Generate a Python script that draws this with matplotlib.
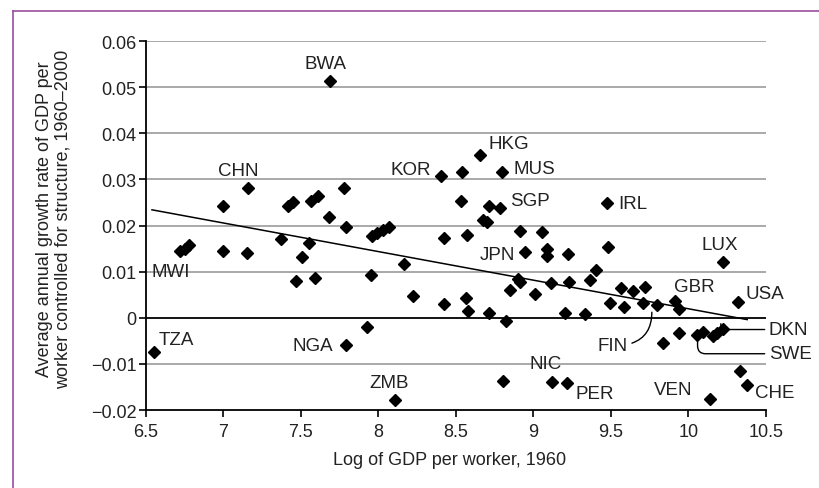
"""
Crecimiento del PIB por trabajador (1960-2000, controlado por estructura)
frente al log del PIB por trabajador en 1960.

Genera:
    out.png
"""

import matplotlib
matplotlib.use("Agg")
import matplotlib.pyplot as plt
from matplotlib.lines import Line2D

# ---------------------------------------------------------------------------
# Datos
# ---------------------------------------------------------------------------

log_gdp_1960 = [
    6.55, 6.72, 6.75, 6.78, 7.00, 7.00, 7.16, 7.155, 7.37, 7.42,
    7.45, 7.47, 7.51, 7.555, 7.565, 7.61, 7.59, 7.685, 7.69, 7.78,
    7.79, 7.79, 7.93, 7.954, 7.96, 7.99, 8.03, 8.07, 8.108, 8.168,
    8.226, 8.405, 8.425, 8.426, 8.532, 8.539, 8.566, 8.57, 8.581, 8.657,
    8.674, 8.70, 8.717, 8.717, 8.786, 8.797, 8.807, 8.823, 8.85, 8.904,
    8.915, 8.915, 8.947, 9.01, 9.055, 9.09, 9.087, 9.113, 9.123, 9.205,
    9.22, 9.227, 9.233, 9.334, 9.366, 9.405, 9.474, 9.484, 9.495, 9.566,
    9.586, 9.642, 9.706, 9.721, 9.80, 9.84, 9.915, 9.943, 9.943, 10.055,
    10.094, 10.14, 10.162, 10.184, 10.223, 10.226, 10.32, 10.334, 10.38,
]

growth = [
    -0.0075, 0.0145, 0.0150, 0.0158, 0.0243, 0.0144, 0.0281, 0.0140, 0.0171, 0.0243,
    0.0252, 0.0079, 0.0132, 0.0161, 0.0253, 0.0263, 0.0086, 0.0218, 0.0514, 0.0281,
    0.0196, -0.0058, -0.0019, 0.0093, 0.0178, 0.0184, 0.0190, 0.0196, -0.0178, 0.0116,
    0.0048, 0.0308, 0.0173, 0.0030, 0.0254, 0.0315, 0.0042, 0.0180, 0.0015, 0.0353,
    0.0212, 0.0207, 0.0243, 0.0010, 0.0237, 0.0317, -0.0137, -0.0006, 0.0061, 0.0084,
    0.0077, 0.0189, 0.0142, 0.0051, 0.0187, 0.0150, 0.0133, 0.0075, -0.0139, 0.0010,
    -0.0141, 0.0138, 0.0078, 0.0008, 0.0082, 0.0104, 0.0249, 0.0153, 0.0033, 0.0064,
    0.0023, 0.0059, 0.0031, 0.0066, 0.0028, -0.0055, 0.0037, 0.0020, -0.0033, -0.0038,
    -0.0030, -0.0176, -0.0039, -0.0032, 0.0120, -0.0024, 0.0035, -0.0115, -0.0146,
]

# Recta de regresión (extremos)
fit_x = [6.54, 10.38]
fit_y = [0.0234, -0.0004]

x_ticks = [6.5, 7, 7.5, 8, 8.5, 9, 9.5, 10, 10.5]
x_tick_labels = ["6.5", "7", "7.5", "8", "8.5", "9", "9.5", "10", "10.5"]
y_ticks = [-0.02, -0.01, 0, 0.01, 0.02, 0.03, 0.04, 0.05, 0.06]
y_tick_labels = ["\u22120.02", "\u22120.01", "0", "0.01", "0.02", "0.03",
                 "0.04", "0.05", "0.06"]

# Etiquetas de países: (texto, x, y, alineación horizontal)
country_labels = [
    ("BWA", 7.66, 0.0551, "center"),
    ("CHN", 7.095, 0.0319, "center"),
    ("KOR", 8.338, 0.0322, "right"),
    ("HKG", 8.708, 0.0377, "left"),
    ("MUS", 8.87, 0.0324, "left"),
    ("SGP", 8.85, 0.0254, "left"),
    ("JPN", 8.883, 0.0137, "right"),
    ("IRL", 9.548, 0.0248, "left"),
    ("LUX", 10.205, 0.0159, "center"),
    ("GBR", 10.037, 0.0068, "center"),
    ("USA", 10.367, 0.0053, "left"),
    ("NIC", 9.08, -0.0099, "center"),
    ("PER", 9.27, -0.0164, "left"),
    ("VEN", 10.028, -0.0156, "right"),
    ("CHE", 10.43, -0.0162, "left"),
    ("ZMB", 8.07, -0.0140, "center"),
    ("NGA", 7.708, -0.0060, "right"),
    ("TZA", 6.586, -0.0047, "left"),
    ("MWI", 6.54, 0.0100, "left"),
]

# Etiquetas con línea guía: (texto, pos. texto, punto, ha, connectionstyle)
leader_labels = [
    ("FIN", (9.61, -0.0061), (9.765, 0.0012), "right", "angle3,angleA=0,angleB=90"),
    ("DKN", (10.52, -0.00255), (10.21, -0.0013), "left", "angle,angleA=0,angleB=90,rad=4"),
    ("SWE", (10.52, -0.0078), (10.06, -0.0047), "left", "angle,angleA=0,angleB=90,rad=8"),
]

# ---------------------------------------------------------------------------
# Figura
# ---------------------------------------------------------------------------

plt.rcParams["font.family"] = ["Liberation Sans", "DejaVu Sans"]

fig = plt.figure(figsize=(8.19, 4.89), dpi=100)
ax = fig.add_axes([0.178, 0.1595, 0.757, 0.7546])

# Rejilla horizontal
for yv in y_ticks:
    if yv == 0:
        ax.axhline(yv, color="black", lw=1.3, zorder=1)
    elif yv != -0.02:
        ax.axhline(yv, color="#a3a3a3", lw=1.3, zorder=1)

ax.plot(fit_x, fit_y, color="black", lw=1.1, zorder=2)
ax.plot(log_gdp_1960, growth, ls="none", marker="D", ms=5.8,
        color="black", zorder=3, clip_on=False)

for txt, x, y, ha in country_labels:
    ax.text(x, y, txt, ha=ha, va="center", fontsize=13.5, color="#222222")

for txt, xyt, xy, ha, cs in leader_labels:
    ax.annotate(txt, xy=xy, xytext=xyt, ha=ha, va="center", fontsize=13.5,
                color="#222222", annotation_clip=False,
                arrowprops=dict(arrowstyle="-", color="black", lw=1.0,
                                shrinkA=1, shrinkB=0, connectionstyle=cs))

ax.set_xlim(6.5, 10.5)
ax.set_ylim(-0.02, 0.06)
ax.set_xticks(x_ticks)
ax.set_xticklabels(x_tick_labels)
ax.set_yticks(y_ticks)
ax.set_yticklabels(y_tick_labels)
ax.tick_params(direction="out", length=5, width=1.2, labelsize=13,
               colors="black", labelcolor="#222222")
ax.tick_params(axis="y", pad=1.5)
ax.tick_params(axis="x", pad=4)

for side in ("top", "right"):
    ax.spines[side].set_visible(False)
for side in ("left", "bottom"):
    ax.spines[side].set_linewidth(1.3)

ax.set_xlabel("Log of GDP per worker, 1960", fontsize=13, color="#222222")
ax.xaxis.set_label_coords(0.49, -0.112)
ax.xaxis.label.set_va("top")
ax.set_ylabel("Average annual growth rate of GDP per\n"
              "worker controlled for structure, 1960\u20132000",
              fontsize=13, color="#222222", linespacing=1.12)
ax.yaxis.set_label_coords(-0.119, 0.52)

# Marco morado parcial (izquierda y arriba)
frame_color = "#9b4f9f"
fig.add_artist(Line2D([0.0155, 0.0155], [0.0, 0.976], color=frame_color,
                      lw=1.2, transform=fig.transFigure))
fig.add_artist(Line2D([0.0155, 1.0], [0.976, 0.976], color=frame_color,
                      lw=1.2, transform=fig.transFigure))

fig.savefig("out.png", dpi=100)
